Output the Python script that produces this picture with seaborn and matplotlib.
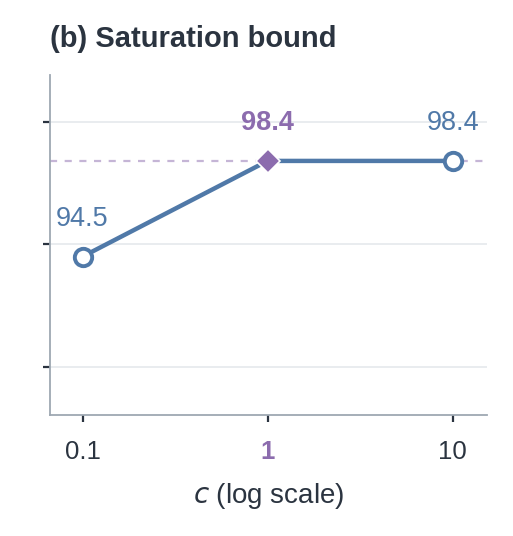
import matplotlib
matplotlib.use("Agg")
import matplotlib.pyplot as plt
import seaborn as sns
import pandas as pd

# data
c_values = [0.1, 1, 10]
accuracy = [94.5, 98.4, 98.4]
tick_labels = ["0.1", "1", "10"]
best_idx = 1

blue = "#5079a8"
purple = "#8c6cae"
dark = "#2b3440"

sns.set_theme(style="white")
plt.rcParams['font.family'] = ['Liberation Sans', 'DejaVu Sans']

df = pd.DataFrame({"c": c_values, "acc": accuracy})

fig = plt.figure(figsize=(5.13, 5.36), dpi=100)
ax = fig.add_axes([0.097, 0.226, 0.852, 0.634])

ax.set_xscale("log")
ax.axhline(accuracy[best_idx], color=purple, alpha=0.5, lw=1.6, ls=(0, (3.2, 3.4)), zorder=1)

sns.lineplot(data=df, x="c", y="acc", ax=ax, color=blue, lw=3.2, zorder=2)

# open circles for the other points
others = df.drop(index=best_idx)
ax.plot(others["c"], others["acc"], ls="none", marker="o", ms=12.5,
        mfc="white", mec=blue, mew=2.8, zorder=3)
ax.plot(c_values[best_idx], accuracy[best_idx], ls="none", marker="D", ms=12.5,
        mfc=purple, mec="white", mew=1.2, zorder=4)

for i, (c, a) in enumerate(zip(c_values, accuracy)):
    best = i == best_idx
    ax.annotate(f"{a:.1f}", (c, a), xytext=(0, 27), textcoords="offset points",
                ha="center", va="center", fontsize=19.5,
                color=purple if best else blue,
                fontweight="bold" if best else "normal")

ax.set_xlim(0.0665, 15.3)
ax.set_ylim(88.05, 101.9)
ax.set_yticks([90, 95, 100])
ax.set_yticklabels([])
ax.set_xticks(c_values)
ax.set_xticklabels(tick_labels)
ax.xaxis.set_minor_locator(matplotlib.ticker.NullLocator())
for i, lab in enumerate(ax.get_xticklabels()):
    lab.set_fontsize(18.5)
    if i == best_idx:
        lab.set_color(purple)
        lab.set_fontweight("bold")
    else:
        lab.set_color(dark)

ax.grid(axis="y", color="#e7eaee", lw=1.3)
ax.set_axisbelow(True)
ax.tick_params(axis="both", which="major", direction="out", length=5, width=1.6,
               color=dark, bottom=True, left=True, pad=13)
ax.tick_params(axis="y", pad=2)

sns.despine(ax=ax)
for s in ["left", "bottom"]:
    ax.spines[s].set_color("#9ea8b2")
    ax.spines[s].set_linewidth(1.3)

ax.set_xlabel("$c$ (log scale)", fontsize=20, color=dark, labelpad=12)
ax.set_ylabel("")
fig.text(0.097, 0.928, "(b) Saturation bound", fontsize=21, fontweight="bold",
         color=dark, ha="left", va="center")

fig.savefig("out.png", dpi=100)
